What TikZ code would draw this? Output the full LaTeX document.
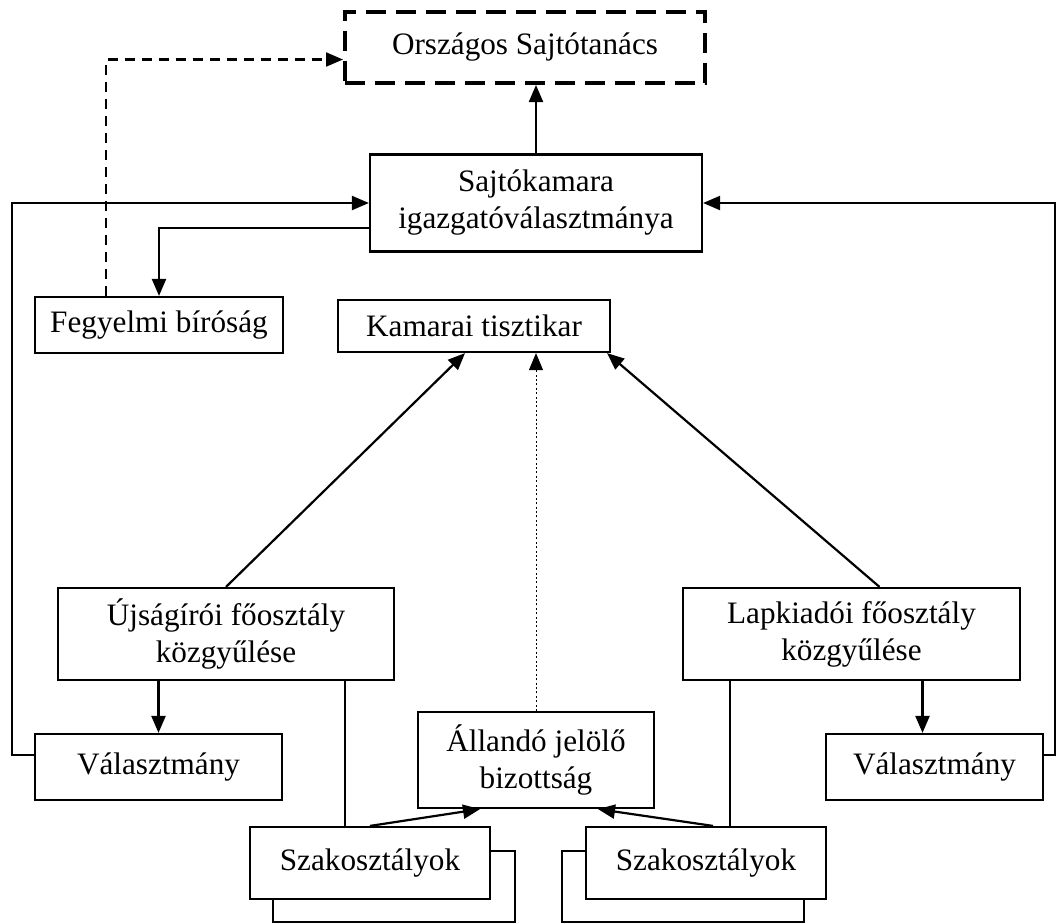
\documentclass[tikz,border=0pt]{standalone}
\usepackage{fontspec}
\setmainfont{Liberation Serif}
\usetikzlibrary{arrows.meta}

\tikzset{
  box/.style={draw, line width=1.1pt, fill=white, align=center, inner sep=0pt},
  arr/.style={line width=1.1pt, -{Triangle[length=8.5pt,width=7pt]}},
  dasharr/.style={arr, dash pattern=on 5pt off 3.5pt},
  dotarr/.style={line width=0.5pt, dash pattern=on 1pt off 1.2pt, -{Triangle[length=8.5pt,width=7pt]}},
  link/.style={line width=1.1pt},
}

\begin{document}
\begin{tikzpicture}[x=0.5pt, y=-0.5pt, font=\fontsize{15.6}{18.5}\selectfont]
  \useasboundingbox (0,0) rectangle (1056,923);

  \node[box, line width=2pt, dash pattern=on 10pt off 5pt, minimum width=180pt, minimum height=35.5pt] (ors) at (525,47.5) {Országos Sajtótanács};
  \node[box, minimum width=166pt, minimum height=48.5pt] (saj) at (536,203) {Sajtókamara\\igazgatóválasztmánya};

  \node[box, minimum width=124pt, minimum height=28pt] (fegy) at (159,325) {Fegyelmi bíróság};
  \node[box, minimum width=136pt, minimum height=26pt] (kam) at (474,326) {Kamarai tisztikar};

  \node[box, minimum width=168pt, minimum height=46pt] (ujs) at (226,634) {Újságírói főosztály\\közgyűlése};
  \node[box, minimum width=168.5pt, minimum height=46pt] (lap) at (851.5,634) {Lapkiadói főosztály\\közgyűlése};

  \node[box, minimum width=123.5pt, minimum height=33pt] (valL) at (158.5,767) {Választmány};
  \node[box, minimum width=108.5pt, minimum height=33pt] (valR) at (934.5,767) {Választmány};
  \node[box, minimum width=118pt, minimum height=48pt] (all) at (536,760) {Állandó jelölő\\bizottság};

  \node[box, minimum width=120pt, minimum height=36pt] (szL) at (370,863) {Szakosztályok};
  \node[box, minimum width=120pt, minimum height=36pt] (szR) at (706,863) {Szakosztályok};

  % stacked second sheet behind the Szakosztályok boxes
  \draw[link] ([yshift=-12.5pt]szL.north east) -- ++(24,0) |- ([xshift=12pt,yshift=-11pt]szL.south west) -- ([xshift=12pt]szL.south west);
  \draw[link] ([yshift=-12.5pt]szR.north west) -- ++(-23,0) |- ([xshift=-11.5pt,yshift=-11pt]szR.south east) -- ([xshift=-11.5pt]szR.south east);

  \coordinate (lrail) at (12,203);
  \coordinate (rrail) at (1055,203);

  \draw[arr] (saj.north) -- (saj.north |- ors.south);
  \draw[dasharr] ([xshift=-26.5pt]fegy.north) |- ([yshift=-6pt]ors.west);
  \draw[arr] ([yshift=-12.5pt]saj.west) -| (fegy.north);
  \draw[arr] ([yshift=6pt]valL.west) -| (lrail) -- (saj.west);
  \draw[arr] ([yshift=6pt]valR.east) -| (rrail) -- (saj.east);

  \draw[arr] (ujs.north) -- ([xshift=-4.5pt]kam.south);
  \draw[arr] ([xshift=14pt]lap.north) -- ([xshift=-2pt]kam.south east);
  \draw[dotarr] (all.north) -- (all.north |- kam.south);

  \draw[arr] (ujs.south -| valL.north) -- (valL.north);
  \draw[arr] ([xshift=-6pt]valR.north |- lap.south) -- ([xshift=-6pt]valR.north);

  \draw[link] ([xshift=59.5pt]ujs.south) -- ([xshift=59.5pt]ujs.south |- szL.north);
  \draw[link] ([xshift=-60.75pt]lap.south) -- ([xshift=-60.75pt]lap.south |- szR.north);

  \draw[arr] (szL.north) -- ([xshift=-28pt]all.south);
  \draw[arr] ([xshift=3.5pt]szR.north) -- ([xshift=31pt]all.south);
\end{tikzpicture}
\end{document}
